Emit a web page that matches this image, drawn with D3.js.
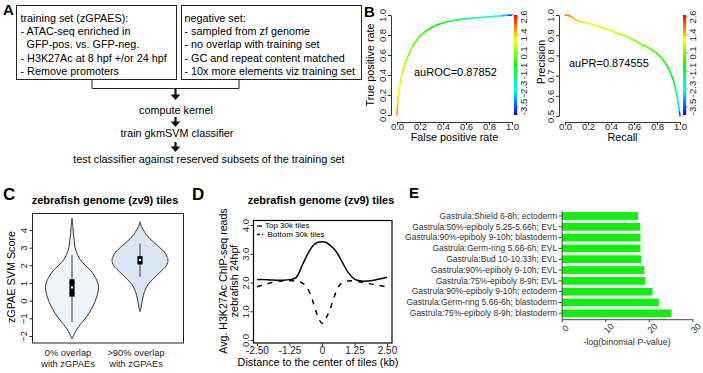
<!DOCTYPE html>
<html><head><meta charset="utf-8">
<script src="https://cdn.jsdelivr.net/npm/d3@7/dist/d3.min.js"></script>
<style>body{margin:0;background:#fff} svg text{font-family:Arial,"Liberation Sans",Helvetica,sans-serif}</style>
</head><body><svg id="c" width="703" height="373"></svg>
<script>
// ---------------- DATA ----------------
const trainLines = ["training set (zGPAES):", "- ATAC-seq enriched in", "  GFP-pos. vs. GFP-neg.", "- H3K27Ac at 8 hpf +/or 24 hpf", "- Remove promoters"];
const negLines = ["negative set:", "- sampled from zf genome", "- no overlap with training set", "- GC and repeat content matched", "- 10x more elements viz training set"];
const flowSteps = ["compute kernel", "train gkmSVM classifier", "test classifier against reserved subsets of the training set"];

const rocFpr = [0, 0.005, 0.01, 0.02, 0.03, 0.05, 0.075, 0.1, 0.14, 0.2, 0.25, 0.3, 0.37, 0.45, 0.55, 0.65, 0.75, 0.85, 0.92, 0.97, 1.0];
const rocTpr = [0, 0.10, 0.18, 0.27, 0.33, 0.44, 0.53, 0.60, 0.70, 0.79, 0.84, 0.875, 0.91, 0.935, 0.955, 0.968, 0.978, 0.988, 0.994, 0.998, 1.0];
const rocCut = [1.9, 1.45, 1.2, 1.05, 0.95, 0.75, 0.55, 0.4, 0.15, -0.1, -0.25, -0.35, -0.5, -0.75, -1.0, -1.25, -1.5, -1.8, -2.2, -2.7, -3.5];
const auROC = "auROC=0.87852";

const prRecall = [0, 0.03, 0.06, 0.1, 0.13, 0.2, 0.25, 0.3, 0.39, 0.45, 0.54, 0.6, 0.68, 0.75, 0.8, 0.85, 0.88, 0.91, 0.94, 0.96, 0.975, 0.986, 0.995, 1.0];
const prPrecision = [1.0, 0.998, 0.99, 0.975, 0.967, 0.96, 0.95, 0.94, 0.926, 0.91, 0.893, 0.875, 0.85, 0.83, 0.81, 0.78, 0.755, 0.725, 0.68, 0.64, 0.6, 0.56, 0.52, 0.5];
const prCut = [2.0, 1.8, 1.6, 1.4, 1.3, 1.15, 1.07, 1.0, 0.85, 0.75, 0.55, 0.4, 0.2, 0.0, -0.1, -0.25, -0.35, -0.5, -0.75, -1.0, -1.4, -1.8, -2.5, -3.5];
const auPR = "auPR=0.874555";
const cutLabels = ["-3.5", "-2.3", "-1.1", "0.1", "1.4", "2.6"];
const rateTicks = [0, 0.2, 0.4, 0.6, 0.8, 1.0];
const precTicks = [0.5, 0.6, 0.7, 0.8, 0.9, 1.0];

const violinCats = ["0% overlap|with zGPAEs", ">90% overlap|with zGPAEs"];
const v1Y = [4.67, 4.2, 3.8, 3.4, 3.0, 2.6, 2.3, 2.0, 1.7, 1.4, 1.1, 0.8, 0.5, 0.2, -0.1, -0.4, -0.7, -1.0, -1.3, -1.6, -1.9, -2.16];
const v1D = [0, 0.03, 0.05, 0.08, 0.11, 0.2, 0.3, 0.48, 0.67, 0.8, 0.9, 0.95, 0.93, 0.88, 0.81, 0.72, 0.61, 0.48, 0.32, 0.18, 0.08, 0];
const v2Y = [4.46, 4.2, 4.0, 3.75, 3.5, 3.25, 3.0, 2.8, 2.6, 2.3, 2.0, 1.8, 1.6, 1.4, 1.2, 1.0, 0.8, 0.5, 0.3, 0.0, -0.3, -0.62];
const v2D = [0, 0.05, 0.12, 0.22, 0.36, 0.53, 0.71, 0.84, 0.93, 1.0, 0.95, 0.84, 0.71, 0.57, 0.45, 0.33, 0.24, 0.16, 0.12, 0.08, 0.05, 0];
const v1Box = [-1.19, 0.23, 0.75, 1.21, 2.58];
const v2Box = [1.36, 2.05, 2.3, 2.52, 3.24];
const scoreTicks = [-2, -1, 0, 1, 2, 3, 4];

const dX = [-2.5, -2.25, -2, -1.75, -1.5, -1.25, -1, -0.75, -0.6, -0.45, -0.3, -0.15, 0, 0.15, 0.3, 0.45, 0.6, 0.75, 1, 1.25, 1.5, 1.75, 2, 2.25, 2.5];
const dTop = [2.1, 2.1, 2.09, 2.08, 2.08, 2.1, 2.17, 2.62, 2.9, 3.15, 3.32, 3.4, 3.42, 3.4, 3.3, 3.18, 3.0, 2.76, 2.36, 2.12, 2.05, 2.05, 2.08, 2.13, 2.18];
const dBottom = [1.85, 1.92, 1.98, 2.03, 2.06, 2.06, 2.05, 1.98, 1.85, 1.6, 1.2, 0.8, 0.58, 0.75, 1.05, 1.45, 1.8, 1.97, 2.05, 2.05, 2.02, 1.97, 1.93, 1.89, 1.86];
const dXTicks = [-2.5, -1.25, 0, 1.25, 2.5];
const dXTickLabels = ["-2.50", "-1.25", "0", "1.25", "2.50"];
const dYTicks = [0, 1, 2, 3, 4];
const dLegend = ["Top 30k tiles", "Bottom 30k tiles"];

const eLabels = ["Gastrula:Shield 6-8h; ectoderm", "Gastrula:50%-epiboly 5.25-5.66h; EVL", "Gastrula:90%-epiboly 9-10h; blastoderm", "Gastrula:Germ-ring 5.66-6h; EVL", "Gastrula:Bud 10-10.33h; EVL", "Gastrula:90%-epiboly 9-10h; EVL", "Gastrula:75%-epiboly 8-9h; EVL", "Gastrula:90%-epiboly 9-10h; ectoderm", "Gastrula:Germ-ring 5.66-6h; blastoderm", "Gastrula:75%-epiboly 8-9h; blastoderm"];
const eValues = [17.55, 18.05, 18.1, 18.1, 18.25, 19.0, 19.2, 20.85, 22.3, 25.2];
const eTicks = [0, 10, 20, 30];

// ---------------- DRAW ----------------
const svg = d3.select("#c");
svg.append("rect").attr("width", 703).attr("height", 373).attr("fill", "#fff");

const letters = [["A", 3, 15, 15], ["B", 364, 17, 15], ["C", 3, 200, 17], ["D", 192, 200, 17], ["E", 409, 198, 15]];
letters.forEach(l => svg.append("text").attr("x", l[1]).attr("y", l[2]).attr("font-size", l[3]).attr("font-weight", "bold").text(l[0]));

// ---- Panel A ----
const A = svg.append("g");
A.append("rect").attr("x", 16.5).attr("y", 5.5).attr("width", 160).attr("height", 74).attr("fill", "none").attr("stroke", "#222").attr("stroke-width", 1);
A.append("rect").attr("x", 181.5).attr("y", 5.5).attr("width", 180).attr("height", 74).attr("fill", "none").attr("stroke", "#222").attr("stroke-width", 1);
const lineY = d3.scaleLinear().domain([0, 4]).range([21.7, 75]);
trainLines.forEach((t, i) => {
  const ind = t.startsWith("  ") ? 6 : 0;
  A.append("text").attr("x", 20.5 + ind).attr("y", lineY(i)).attr("font-size", 10.8).text(t.trim());
});
negLines.forEach((t, i) => A.append("text").attr("x", 184.5).attr("y", lineY(i)).attr("font-size", 10.8).text(t));
A.append("path").attr("d", "M92,79.5V88.5H239V79.5").attr("fill", "none").attr("stroke", "#222").attr("stroke-width", 1);
function arrow(x, y0, y1) {
  A.append("line").attr("x1", x).attr("x2", x).attr("y1", y0).attr("y2", y1 - 4).attr("stroke", "#111").attr("stroke-width", 2.2);
  A.append("path").attr("d", `M${x - 4.8},${y1 - 5.5}L${x + 4.8},${y1 - 5.5}L${x},${y1}Z`).attr("fill", "#111");
}
arrow(175.5, 88.5, 100);
arrow(175.5, 117, 127);
arrow(175.5, 142, 152);
const flowY = [113.5, 137, 163];
const flowX = [176, 177, 209];
flowSteps.forEach((t, i) => A.append("text").attr("x", flowX[i]).attr("y", flowY[i]).attr("font-size", 10.8).attr("text-anchor", "middle").text(t));

// ---- Panel B ----
const cutMin = -3.5, cutMax = 2.6;
const cutColor = v => d3.hsl(240 * (1 - (Math.max(cutMin, Math.min(cutMax, v)) - cutMin) / (cutMax - cutMin)), 1, 0.5).toString();

function rPlot(g, xs, ys, cuts, xr, yDom, yr, yTicks, yLabel, xLabel, auText, auPos, barX, ylabX, ylabY) {
  const x = d3.scaleLinear().domain([0, 1]).range(xr);
  const y = d3.scaleLinear().domain(yDom).range(yr);
  for (let i = 0; i < xs.length - 1; i++) {
    g.append("line").attr("x1", x(xs[i])).attr("y1", y(ys[i])).attr("x2", x(xs[i + 1])).attr("y2", y(ys[i + 1]))
      .attr("stroke", cutColor((cuts[i] + cuts[i + 1]) / 2)).attr("stroke-width", 1.6).attr("stroke-linecap", "round");
  }
  const xa = g.append("g").attr("transform", "translate(0,122)")
    .call(d3.axisBottom(x).tickValues(rateTicks).tickFormat(d3.format(".1f")).tickSize(3).tickSizeOuter(0));
  xa.select(".domain").attr("stroke", "#333");
  xa.selectAll(".tick line").attr("stroke", "#333");
  xa.selectAll("text").attr("font-size", 9.5).attr("fill", "#222").attr("y", 1).style("font-family", "Arial, 'Liberation Sans', sans-serif");
  const ya = g.append("g").attr("transform", `translate(${xr[0] - 6},0)`)
    .call(d3.axisLeft(y).tickValues(yTicks).tickFormat(d3.format(".1f")).tickSize(3).tickSizeOuter(0));
  ya.select(".domain").attr("stroke", "#333");
  ya.selectAll(".tick line").attr("stroke", "#333");
  ya.selectAll("text").attr("font-size", 9.5).attr("fill", "#222").style("font-family", "Arial, 'Liberation Sans', sans-serif")
    .attr("transform", "rotate(-90)").attr("x", 0).attr("y", -5).attr("dy", 0).attr("text-anchor", "middle");
  g.append("text").attr("transform", `translate(${ylabX},${ylabY}) rotate(-90)`).attr("text-anchor", "middle").attr("font-size", 10.8).text(yLabel);
  g.append("text").attr("x", (xr[0] + xr[1]) / 2).attr("y", 140.5).attr("text-anchor", "middle").attr("font-size", 10.8).text(xLabel);
  g.append("text").attr("x", auPos[0]).attr("y", auPos[1]).attr("font-size", 11).text(auText);
  const gid = "grad" + barX;
  const grad = svg.append("defs").append("linearGradient").attr("id", gid).attr("x1", 0).attr("y1", 1).attr("x2", 0).attr("y2", 0);
  d3.range(0, 1.0001, 0.05).forEach(t => grad.append("stop").attr("offset", t).attr("stop-color", cutColor(cutMin + t * (cutMax - cutMin))));
  g.append("rect").attr("x", barX).attr("y", 15).attr("width", 3.2).attr("height", 100).attr("fill", `url(#${gid})`);
  const cy = d3.scalePoint().domain(cutLabels).range([107, 17]);
  cutLabels.forEach(l => {
    g.append("line").attr("x1", barX + 3.2).attr("x2", barX + 5).attr("y1", cy(l)).attr("y2", cy(l)).attr("stroke", "#555").attr("stroke-width", 0.6);
    g.append("text").attr("transform", `translate(${barX + 13},${cy(l)}) rotate(-90)`).attr("text-anchor", "middle").attr("font-size", 9.5).attr("fill", "#222").text(l);
  });
}
rPlot(svg.append("g"), rocFpr, rocTpr, rocCut, [397, 512], [0, 1], [115, 15], rateTicks, "True positive rate", "False positive rate", auROC, [414, 76], 514, 374, 65);
rPlot(svg.append("g"), prRecall, prPrecision, prCut, [565, 680], [0.5, 1], [116, 15], precTicks, "Precision", "Recall", auPR, [569, 67], 683, 545, 62);

// ---- Panel C ----
const C = svg.append("g");
C.append("text").attr("x", 105).attr("y", 204).attr("text-anchor", "middle").attr("font-size", 11).attr("font-weight", "bold").text("zebrafish genome (zv9) tiles");
const cx = d3.scalePoint().domain(violinCats).range([72, 140]);
const cy = d3.scaleLinear().domain([-2, 4]).range([336, 230]);
const cw = d3.scaleLinear().domain([0, 1]).range([0, 28]);
const fills = ["#f0f5fc", "#dbe6f3"];
[[v1Y, v1D, v1Box], [v2Y, v2D, v2Box]].forEach((v, k) => {
  const c0 = cx(violinCats[k]);
  const pts = v[0].map((yv, i) => ({ y: yv, d: v[1][i] }));
  const area = d3.area().y(p => cy(p.y)).x0(p => c0 - cw(p.d)).x1(p => c0 + cw(p.d)).curve(d3.curveCatmullRom);
  C.append("path").attr("d", area(pts)).attr("fill", fills[k]).attr("stroke", "#333").attr("stroke-width", 1);
  const b = v[2];
  C.append("line").attr("x1", c0).attr("x2", c0).attr("y1", cy(b[0])).attr("y2", cy(b[4])).attr("stroke", "#555").attr("stroke-width", 1.2);
  C.append("rect").attr("x", c0 - 2.6).attr("y", cy(b[3])).attr("width", 5.2).attr("height", cy(b[1]) - cy(b[3])).attr("fill", "#000");
  C.append("rect").attr("x", c0 - 1.1).attr("y", cy(b[2]) - 1.1).attr("width", 2.2).attr("height", 2.2).attr("fill", "#fff");
});
C.append("rect").attr("x", 32.5).attr("y", 213.5).attr("width", 151).attr("height", 129.5).attr("fill", "none").attr("stroke", "#222").attr("stroke-width", 1);
const cya = C.append("g").attr("transform", "translate(32.5,0)").call(d3.axisLeft(cy).tickValues(scoreTicks).tickFormat(d => d < 0 ? "\u2212" + (-d) : d).tickSize(3).tickSizeOuter(0));
cya.select(".domain").remove();
cya.selectAll(".tick line").attr("stroke", "#333");
cya.selectAll("text").attr("font-size", 9.5).attr("fill", "#222").style("font-family", "Arial, 'Liberation Sans', sans-serif")
  .attr("transform", "rotate(-90)").attr("x", 0).attr("y", -6).attr("dy", 0).attr("text-anchor", "middle");
C.append("text").attr("transform", "translate(15,277) rotate(-90)").attr("text-anchor", "middle").attr("font-size", 10.8).text("zGPAE SVM Score");
violinCats.forEach(c => {
  c.split("|").forEach((t, j) => C.append("text").attr("x", cx(c) - 4).attr("y", 356 + j * 11).attr("text-anchor", "middle").attr("font-size", 9.3).attr("fill", "#222").text(t));
});

// ---- Panel D ----
const D = svg.append("g");
D.append("text").attr("x", 321).attr("y", 204).attr("text-anchor", "middle").attr("font-size", 11).attr("font-weight", "bold").text("zebrafish genome (zv9) tiles");
const dx = d3.scaleLinear().domain([-2.5, 2.5]).range([257, 387]);
const dy = d3.scaleLinear().domain([0, 4]).range([340, 225]);
const dline = arr => d3.line().x((p, i) => dx(dX[i])).y(p => dy(p)).curve(d3.curveCatmullRom)(arr);
D.append("path").attr("d", dline(dTop)).attr("fill", "none").attr("stroke", "#000").attr("stroke-width", 1.5);
D.append("path").attr("d", dline(dBottom)).attr("fill", "none").attr("stroke", "#000").attr("stroke-width", 1.5).attr("stroke-dasharray", "5,6");
D.append("rect").attr("x", 253.5).attr("y", 220.5).attr("width", 138.5).attr("height", 122.5).attr("fill", "none").attr("stroke", "#000").attr("stroke-width", 1.2);
const dxa = D.append("g").attr("transform", "translate(0,343)").call(d3.axisBottom(dx).tickValues(dXTicks).tickFormat((d, i) => dXTickLabels[i]).tickSize(3).tickSizeOuter(0).tickPadding(1));
dxa.select(".domain").remove();
dxa.selectAll(".tick line").attr("stroke", "#333");
dxa.selectAll("text").attr("font-size", 10).attr("fill", "#222").style("font-family", "Arial, 'Liberation Sans', sans-serif");
const dya = D.append("g").attr("transform", "translate(253.5,0)").call(d3.axisLeft(dy).tickValues(dYTicks).tickSize(3).tickSizeOuter(0));
dya.select(".domain").remove();
dya.selectAll(".tick line").attr("stroke", "#333");
dya.selectAll("text").attr("font-size", 9.5).attr("fill", "#222").style("font-family", "Arial, 'Liberation Sans', sans-serif")
  .attr("transform", "rotate(-90)").attr("x", 0).attr("y", -5).attr("dy", 0).attr("text-anchor", "middle");
D.append("text").attr("transform", "translate(227,281) rotate(-90)").attr("text-anchor", "middle").attr("font-size", 10.6).text("Avg. H3K27Ac ChIP-seq reads");
D.append("text").attr("transform", "translate(238,281) rotate(-90)").attr("text-anchor", "middle").attr("font-size", 10.6).text("zebrafish 24hpf");
D.append("text").attr("x", 318).attr("y", 366).attr("text-anchor", "middle").attr("font-size", 10.8).text("Distance to the center of tiles (kb)");
D.append("line").attr("x1", 257).attr("x2", 262).attr("y1", 226).attr("y2", 226).attr("stroke", "#000").attr("stroke-width", 1.3);
D.append("line").attr("x1", 257).attr("x2", 263).attr("y1", 234.5).attr("y2", 234.5).attr("stroke", "#000").attr("stroke-width", 1.3).attr("stroke-dasharray", "3,2");
D.append("text").attr("x", 265).attr("y", 228.3).attr("font-size", 8).text(dLegend[0]);
D.append("text").attr("x", 267.5).attr("y", 237.3).attr("font-size", 8).text(dLegend[1]);

// ---- Panel E ----
const E = svg.append("g");
const ex = d3.scaleLinear().domain([0, 30]).range([561.7, 692.3]);
const ey = d3.scaleBand().domain(eLabels).range([210.6, 318.7]).paddingInner(0.28).paddingOuter(0.14);
E.selectAll(".bar").data(eLabels).enter().append("rect")
  .attr("x", ex(0)).attr("y", d => ey(d)).attr("height", ey.bandwidth())
  .attr("width", (d, i) => ex(eValues[i]) - ex(0)).attr("fill", "#14ec14");
const eya = E.append("g").attr("transform", "translate(561.7,0)").call(d3.axisLeft(ey).tickSize(3).tickSizeOuter(0).tickPadding(1.5));
eya.select(".domain").attr("stroke", "#444");
eya.selectAll(".tick line").attr("stroke", "#444");
eya.selectAll("text").attr("font-size", 8.5).attr("fill", "#333").style("font-family", "Arial, 'Liberation Sans', sans-serif");
const exa = E.append("g").attr("transform", "translate(0,319.2)").call(d3.axisBottom(ex).tickValues(eTicks).tickSize(3).tickSizeOuter(0));
exa.select(".domain").attr("stroke", "#444");
exa.selectAll(".tick line").attr("stroke", "#444");
exa.selectAll("text").attr("font-size", 9).attr("fill", "#333").style("font-family", "Arial, 'Liberation Sans', sans-serif")
  .attr("transform", "translate(3,9) rotate(-45)").attr("y", 0).attr("dy", "0.35em").attr("text-anchor", "middle");
E.append("text").attr("x", 627).attr("y", 345).attr("text-anchor", "middle").attr("font-size", 9).attr("fill", "#333").text("-log(binomial P-value)");
</script></body></html>
